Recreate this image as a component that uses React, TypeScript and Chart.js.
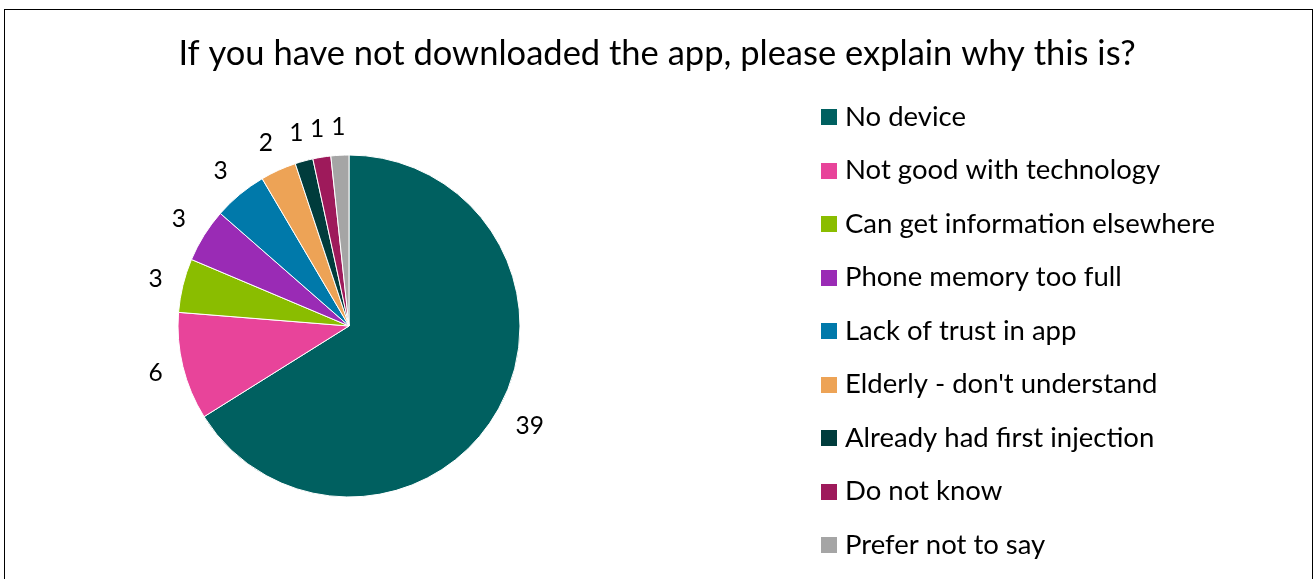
import React, { useEffect, useRef } from "react";
import { Chart, registerables } from "chart.js";

Chart.register(...registerables);

const TITLE = "If you have not downloaded the app, please explain why this is?";
const CATEGORIES = [
  "No device",
  "Not good with technology",
  "Can get information elsewhere",
  "Phone memory too full",
  "Lack of trust in app",
  "Elderly - don't understand",
  "Already had first injection",
  "Do not know",
  "Prefer not to say",
];
const VALUES = [39, 6, 3, 3, 3, 2, 1, 1, 1];
const COLORS = [
  "#006060",
  "#E8449A",
  "#8ABD00",
  "#9A2BB5",
  "#0079AA",
  "#EDA356",
  "#003C3C",
  "#9E1A5B",
  "#A5A5A5",
];

const FONT = "Lato";
const TITLE_SIZE = 34.5;
const LEGEND_SIZE = 27.5;
const LABEL_SIZE = 24.5;
const CANVAS_W = 1314;
const CANVAS_H = 640;
const PIE_CX = 349;
const PIE_CY = 326;
const PIE_R = 171;
const SWATCH = 16;
const LEGEND_ROW = 53.5;
const LEGEND_GAP = 24; // swatch left edge to text start
const SWATCH_CX = 829; // legend swatch centre x
const FIRST_ROW_Y = 117;
const TITLE_MID_Y = 53.9;

const centerPlugin = {
  id: "pieCenter",
  afterLayout(chart: any) {
    const ca = chart.chartArea;
    const w = ca.right - ca.left;
    const h = ca.bottom - ca.top;
    ca.left = PIE_CX - w / 2;
    ca.right = PIE_CX + w / 2;
    ca.top = PIE_CY - h / 2;
    ca.bottom = PIE_CY + h / 2;
  },
};

const labelPlugin = {
  id: "outsideLabels",
  afterDatasetsDraw(chart: any) {
    const ctx = chart.ctx;
    const meta = chart.getDatasetMeta(0);
    const data = chart.data.datasets[0].data;
    ctx.save();
    ctx.font = `${LABEL_SIZE}px ${FONT}`;
    ctx.fillStyle = "#000";
    ctx.textAlign = "center";
    ctx.textBaseline = "middle";
    meta.data.forEach((arc: any, i: number) => {
      const p = arc.getProps(["x", "y", "startAngle", "endAngle", "outerRadius"], true);
      const mid = (p.startAngle + p.endAngle) / 2;
      const text = String(data[i]);
      const w = ctx.measureText(text).width;
      const h = LABEL_SIZE * 0.72;
      const c = Math.cos(mid);
      const s = Math.sin(mid);
      const d = p.outerRadius + 19 + (w / 2) * Math.abs(c) + (h / 2) * Math.abs(s);
      ctx.fillText(text, p.x + d * c, p.y + d * s);
    });
    ctx.restore();
  },
};

function makeSwatch(color: string) {
  const cv = document.createElement("canvas");
  cv.width = SWATCH;
  cv.height = SWATCH;
  const c = cv.getContext("2d")!;
  c.fillStyle = color;
  c.fillRect(0, 0, SWATCH, SWATCH);
  return cv;
}

export default function App() {
  const ref = useRef<HTMLCanvasElement | null>(null);

  useEffect(() => {
    if (!ref.current) return;
    const swatches = COLORS.map(makeSwatch);

    // legend geometry
    const pad = LEGEND_ROW - LEGEND_SIZE;
    const pointW = 2 * (LEGEND_GAP - LEGEND_SIZE / 2 - SWATCH / 2);
    const mctx = document.createElement("canvas").getContext("2d")!;
    mctx.font = `${LEGEND_SIZE}px ${FONT}`;
    const maxText = Math.max(...CATEGORIES.map((t) => mctx.measureText(t).width));
    const legendW = pad + pointW + LEGEND_SIZE / 2 + maxText + 10;
    const legendLeft = SWATCH_CX - pointW / 2 - pad;
    const padR = CANVAS_W - legendLeft - legendW;
    const padL = padR; // keeps the title centred on the canvas
    const legendTop = FIRST_ROW_Y - LEGEND_SIZE / 2 - pad;
    const lh = TITLE_SIZE * 1.2;
    const tTop = TITLE_MID_Y - lh / 2;
    const tBottom = legendTop - tTop - lh;

    const chart = new Chart(ref.current, {
      type: "pie",
      data: {
        labels: CATEGORIES,
        datasets: [
          {
            data: VALUES,
            backgroundColor: COLORS,
            borderColor: "#ffffff",
            borderWidth: 1,
          },
        ],
      },
      plugins: [centerPlugin, labelPlugin],
      options: {
        animation: false,
        responsive: true,
        maintainAspectRatio: false,
        events: [],
        radius: PIE_R,
        layout: { padding: { left: padL, right: padR, top: 0, bottom: 0 } },
        plugins: {
          tooltip: { enabled: false },
          title: {
            display: true,
            text: TITLE,
            color: "#000",
            font: { family: FONT, size: TITLE_SIZE, weight: "normal" },
            padding: { top: tTop, bottom: tBottom },
          },
          legend: {
            display: true,
            position: "right",
            align: "start",
            fullSize: false,
            labels: {
              usePointStyle: true,
              pointStyleWidth: pointW,
              color: "#000",
              padding: pad,
              font: { family: FONT, size: LEGEND_SIZE },
              generateLabels: () =>
                CATEGORIES.map((text, i) => ({
                  text,
                  fillStyle: COLORS[i],
                  strokeStyle: COLORS[i],
                  lineWidth: 0,
                  pointStyle: swatches[i],
                  fontColor: "#000",
                  hidden: false,
                  index: i,
                })),
            },
          },
        },
      } as any,
    });
    return () => chart.destroy();
  }, []);

  return (
    <>
      <div
        style={{
          position: "fixed",
          left: 0,
          top: 0,
          width: CANVAS_W,
          height: CANVAS_H,
          background: "#fff",
        }}
      >
        <canvas ref={ref} />
      </div>
      <div
        style={{
          position: "fixed",
          left: 4,
          top: 9,
          width: 1309,
          height: 620,
          boxSizing: "border-box",
          border: "1px solid #000",
          pointerEvents: "none",
        }}
      />
    </>
  );
}
